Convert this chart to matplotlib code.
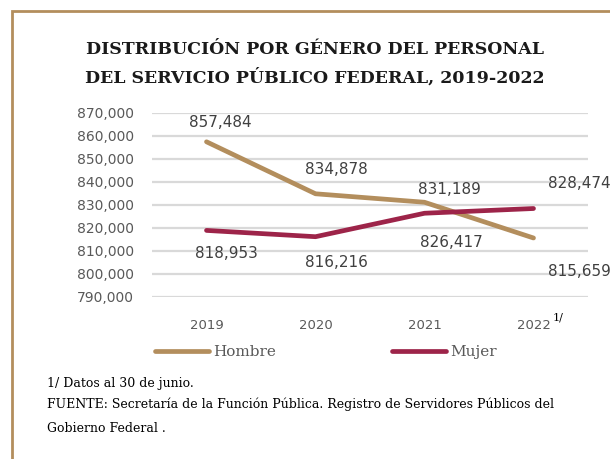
import matplotlib.pyplot as plt
from matplotlib.patches import Rectangle

# Datos del grafico
anios = ['2019', '2020', '2021', '2022']
hombre = [857484, 834878, 831189, 815659]
mujer = [818953, 816216, 826417, 828474]
yticks = list(range(790000, 870001, 10000))

col_h = '#B38E5D'
col_m = '#9D2449'
gris = '#595959'

fig = plt.figure(figsize=(6.1, 4.59), dpi=100)
ax = fig.add_axes([152/610, 1-297/459, 436/610, 184/459])

x = range(len(anios))
ax.plot(x, hombre, color=col_h, lw=3.4, solid_capstyle='round', label='Hombre', zorder=3)
ax.plot(x, mujer, color=col_m, lw=3.4, solid_capstyle='round', label='Mujer', zorder=3)

# etiquetas de datos (desplazamiento en pixeles)
off_h = [(14, 19), (21, 24), (25, 13), (46, -34)]
off_m = [(20, -23), (21, -26), (27, -29), (46, 25)]
for i in x:
    ax.annotate(f'{hombre[i]:,}', (i, hombre[i]), xytext=off_h[i], textcoords='offset pixels',
                ha='center', va='center', fontsize=11, color='#404040', annotation_clip=False)
    ax.annotate(f'{mujer[i]:,}', (i, mujer[i]), xytext=off_m[i], textcoords='offset pixels',
                ha='center', va='center', fontsize=11, color='#404040', annotation_clip=False)

ax.set_xlim(-0.5, 3.5)
ax.set_ylim(790000, 870000)
ax.set_yticks(yticks)
ax.set_yticklabels([f'{v:,}' for v in yticks], fontsize=10, color=gris)
ax.set_xticks(list(x))
ax.set_xticklabels(anios, fontsize=9.5, color=gris)
ax.tick_params(length=0, pad=13)
ax.tick_params(axis='x', pad=16)
ax.grid(axis='y', color='#d9d9d9', lw=1.6)
ax.set_axisbelow(True)
for s in ax.spines.values():
    s.set_visible(False)

fig.text(558/610, 1-317/459, '1/', fontsize=8, color='black', family='DejaVu Serif', ha='center', va='center')

fig.text(315/610, 1-50/459, 'DISTRIBUCIÓN POR GÉNERO DEL PERSONAL', family='DejaVu Serif',
         weight='bold', fontsize=12.5, ha='center', va='center', color='#1a1a1a')
fig.text(315/610, 1-77/459, 'DEL SERVICIO PÚBLICO FEDERAL, 2019-2022', family='DejaVu Serif',
         weight='bold', fontsize=12.5, ha='center', va='center', color='#1a1a1a')

leg = fig.legend(loc='center', bbox_to_anchor=(326/610, 1-352/459), ncol=2, frameon=False,
                 prop={'family': 'DejaVu Serif', 'size': 11}, handlelength=3.5,
                 handletextpad=0.3, columnspacing=7.6, labelcolor=gris)

fig.text(47/610, 1-383/459, '1/ Datos al 30 de junio.', family='DejaVu Serif', fontsize=9, va='center')
fig.text(47/610, 1-404/459, 'FUENTE: Secretaría de la Función Pública. Registro de Servidores Públicos del',
         family='DejaVu Serif', fontsize=9, va='center')
fig.text(47/610, 1-428/459, 'Gobierno Federal .', family='DejaVu Serif', fontsize=9, va='center')

# marco
fig.patches.append(Rectangle((12/610, -0.1), 1.0, 1-11/459+0.1, transform=fig.transFigure,
                             fill=False, edgecolor=col_h, lw=2))

fig.savefig('out.png', dpi=100)
